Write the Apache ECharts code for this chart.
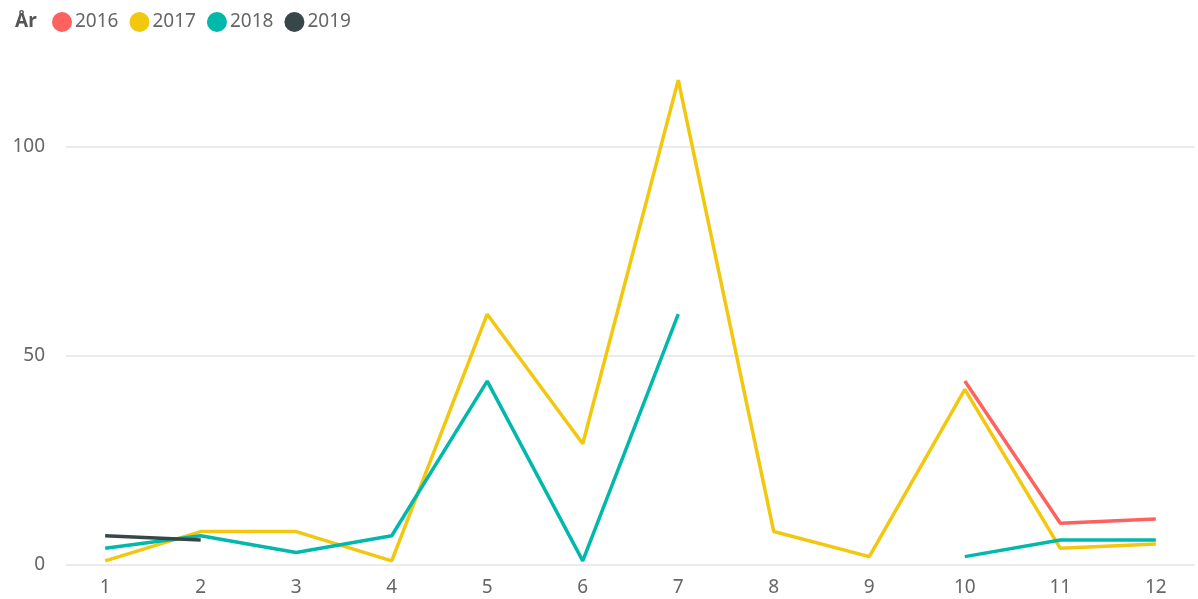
<!DOCTYPE html>
<html>
<head>
<meta charset="utf-8">
<script src="https://cdn.jsdelivr.net/npm/echarts@6/dist/echarts.min.js"></script>
<style>
  html, body { margin: 0; padding: 0; background: #fff; }
  #chart { width: 1198px; height: 599px; }
</style>
</head>
<body>
<div id="chart"></div>
<script>
  // månader på x-axeln
  const months = [1, 2, 3, 4, 5, 6, 7, 8, 9, 10, 11, 12]
  const years = ['2016', '2017', '2018', '2019']
  const yTicks = [0, 50, 100]

  const v2016 = [null, null, null, null, null, null, null, null, null, 44, 10, 11]
  const v2017 = [1, 8, 8, 1, 60, 29, 116, 8, 2, 42, 4, 5]
  const v2018 = [4, 7, 3, 7, 44, 1, 60, null, null, 2, 6, 6]
  const v2019 = [7, 6, null, null, null, null, null, null, null, null, null, null]

  const colors = ['#FD625E', '#F2C80F', '#01B8AA', '#374649']
  const values = [v2016, v2017, v2018, v2019]

  const font = '"Noto Sans", "Open Sans", sans-serif'

  const chart = echarts.init(document.getElementById('chart'))

  chart.setOption({
    animation: false,
    title: {
      text: 'År',
      left: 10,
      top: 7,
      textStyle: { fontFamily: font, fontSize: 19, fontWeight: 'bold', color: '#555' },
    },
    legend: {
      data: years,
      left: 47,
      top: 7,
      icon: 'circle',
      itemWidth: 20,
      itemHeight: 20,
      itemGap: 11,
      textStyle: { fontFamily: font, fontSize: 19, color: '#666', padding: [0, 0, 0, -2] },
    },
    grid: {
      left: 66,
      right: 2,
      top: 147,
      bottom: 34,
    },
    xAxis: {
      type: 'value',
      min: 0.59,
      max: 12.41,
      minInterval: 1,
      maxInterval: 1,
      axisLine: { show: false },
      axisTick: { show: false },
      splitLine: { show: false },
      axisLabel: {
        color: '#666',
        fontFamily: font,
        fontSize: 19,
        margin: 13,
        formatter: (v) => (months.includes(v) ? String(v) : ''),
      },
    },
    yAxis: {
      type: 'value',
      min: yTicks[0],
      max: yTicks[yTicks.length - 1],
      interval: 50,
      axisLine: { show: false },
      axisTick: { show: false },
      axisLabel: { color: '#666', fontFamily: font, fontSize: 19, margin: 21 },
      splitLine: { lineStyle: { color: '#e4e4e4', width: 1.5 } },
    },
    series: years.map((y, i) => ({
      name: y,
      type: 'line',
      clip: false,
      symbol: 'none',
      color: colors[i],
      lineStyle: { width: 3.5, color: colors[i] },
      data: months.map((m, j) => [m, values[i][j] == null ? '-' : values[i][j]]),
    })),
  })
</script>
</body>
</html>
